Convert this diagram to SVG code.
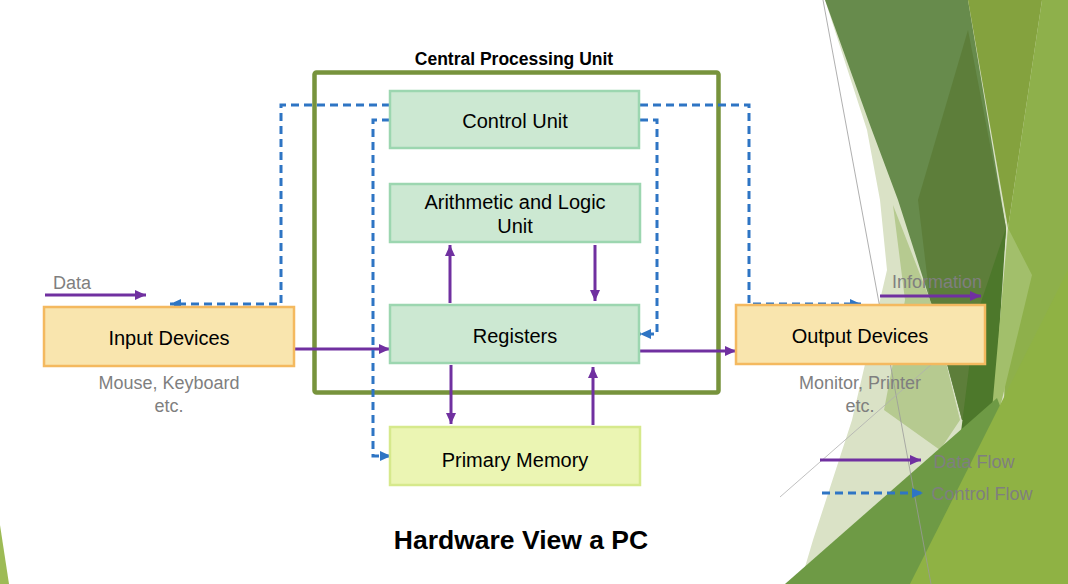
<svg xmlns="http://www.w3.org/2000/svg" width="1068" height="584" viewBox="0 0 1068 584">
<style>
.box{stroke-width:2.5}
.cpu{fill:#cce8d2;stroke:#9cd6b0}
.mem{fill:#ebf5b3;stroke:#d6e98c}
.io{fill:#f9e5ae;stroke:#f4b95f}
.t{font-family:"Liberation Sans",Arial,sans-serif;font-size:20px;fill:#000;text-anchor:middle}
.g{font-family:"Liberation Sans",Arial,sans-serif;font-size:18px;fill:#7f7f7f;text-anchor:middle}
.b{font-family:"Liberation Sans",Arial,sans-serif;font-weight:bold;fill:#000;text-anchor:middle}
.data{fill:none;stroke:#7030a0;stroke-width:3;marker-end:url(#pa)}
.ctrl{fill:none;stroke:#2e75c4;stroke-width:3;stroke-dasharray:8 5;marker-end:url(#ba)}
</style>
<defs>
<marker id="pa" markerUnits="userSpaceOnUse" markerWidth="12" markerHeight="10" refX="11" refY="5" orient="auto"><path d="M0,0 L11,5 L0,10 z" fill="#7030a0"/></marker>
<marker id="ba" markerUnits="userSpaceOnUse" markerWidth="12" markerHeight="10" refX="11" refY="5" orient="auto"><path d="M0,0 L11,5 L0,10 z" fill="#2e75c4"/></marker>
</defs>
<rect width="1068" height="584" fill="#ffffff"/>
<g id="background">
<polygon points="825,0 867,130 880,200 887,270 852,420 813,540 800,584 1068,584 1068,0" fill="#dae2c6"/>
<polygon points="825,0 968,0 1006,228 990,420 962,420 930,300 898,200 870,125" fill="#678b4c"/>
<polygon points="968,30 1006,228 990,420 962,420 930,300 918,200" fill="#5d7e3a"/>
<polygon points="893,205 932,305 960,420 940,450 884,410 905,300" fill="#b6ca90"/>
<polygon points="1006,228 995,400 985,445 960,440 975,320" fill="#4d782b"/>
<polygon points="968,0 1042,0 1008,228" fill="#84a23e"/>
<polygon points="1042,0 1068,0 1068,584 1000,584 1008,228" fill="#8eb04b"/>
<polygon points="1008,228 1032,275 985,470 992,410" fill="#a2bf6b"/>
<polygon points="785,584 997,398 1068,584" fill="#6e9a45"/>
<polygon points="910,584 1068,270 1068,584" fill="#8fb244"/>
<polygon points="0,525 9,584 0,584" fill="#9dbb55"/>
<line x1="823" y1="0" x2="931" y2="584" stroke="#9a9a9a" stroke-width="0.8"/>
<line x1="780" y1="497" x2="965" y2="335" stroke="#b0b0b0" stroke-width="0.8"/>
</g>
<g id="cpu">
<rect x="314.5" y="72.5" width="404" height="320" rx="2" fill="none" stroke="#77933c" stroke-width="4.5"/>
<text class="b" x="514" y="65" font-size="17.5">Central Processing Unit</text>
</g>
<g id="connectors">
<path class="data" d="M294,349 L390,349"/>
<path class="data" d="M639,351 L736,351"/>
<path class="data" d="M450,303 L450,245"/>
<path class="data" d="M595,245 L595,301"/>
<path class="data" d="M451,365 L451,424"/>
<path class="data" d="M593,425 L593,367"/>
<path class="data" d="M45,295 L146,295"/>
<path class="data" d="M880,296 L981,296"/>
<path class="data" d="M820,460 L921,460"/>
<path class="ctrl" d="M822,493 L923,493"/>
<path class="ctrl" d="M390,105 L281,105 L281,304 L170,304"/>
<path class="ctrl" d="M390,120 L373,120 L373,456 L391,456"/>
<path class="ctrl" d="M640,105 L749,105 L749,304 L861,304"/>
<path class="ctrl" d="M640,120 L657,120 L657,334 L640,334"/>
</g>
<g id="control-unit">
<rect class="box cpu" x="390" y="91" width="249" height="57"/>
<text class="t" x="515" y="128">Control Unit</text>
</g>
<g id="alu">
<rect class="box cpu" x="390" y="184" width="250" height="58"/>
<text class="t" x="515" y="209">Arithmetic and Logic</text>
<text class="t" x="515" y="233">Unit</text>
</g>
<g id="registers">
<rect class="box cpu" x="390" y="305" width="249" height="58"/>
<text class="t" x="515" y="343">Registers</text>
</g>
<g id="primary-memory">
<rect class="box mem" x="390" y="427" width="250" height="58"/>
<text class="t" x="515" y="467">Primary Memory</text>
</g>
<g id="input-devices">
<rect class="box io" x="44" y="307" width="250" height="59"/>
<text class="t" x="169" y="345">Input Devices</text>
<text class="g" x="169" y="389">Mouse, Keyboard</text>
<text class="g" x="169" y="412">etc.</text>
</g>
<g id="output-devices">
<rect class="box io" x="736" y="305" width="249" height="59"/>
<text class="t" x="860" y="343">Output Devices</text>
<text class="g" x="860" y="389">Monitor, Printer</text>
<text class="g" x="860" y="412">etc.</text>
</g>
<g id="labels">
<text class="g" x="72" y="289">Data</text>
<text class="g" x="937" y="288">Information</text>
<text class="g" x="974" y="468">Data Flow</text>
<text class="g" x="982" y="500">Control Flow</text>
<text class="b" x="521" y="549" font-size="26.5">Hardware View a PC</text>
</g>
</svg>
